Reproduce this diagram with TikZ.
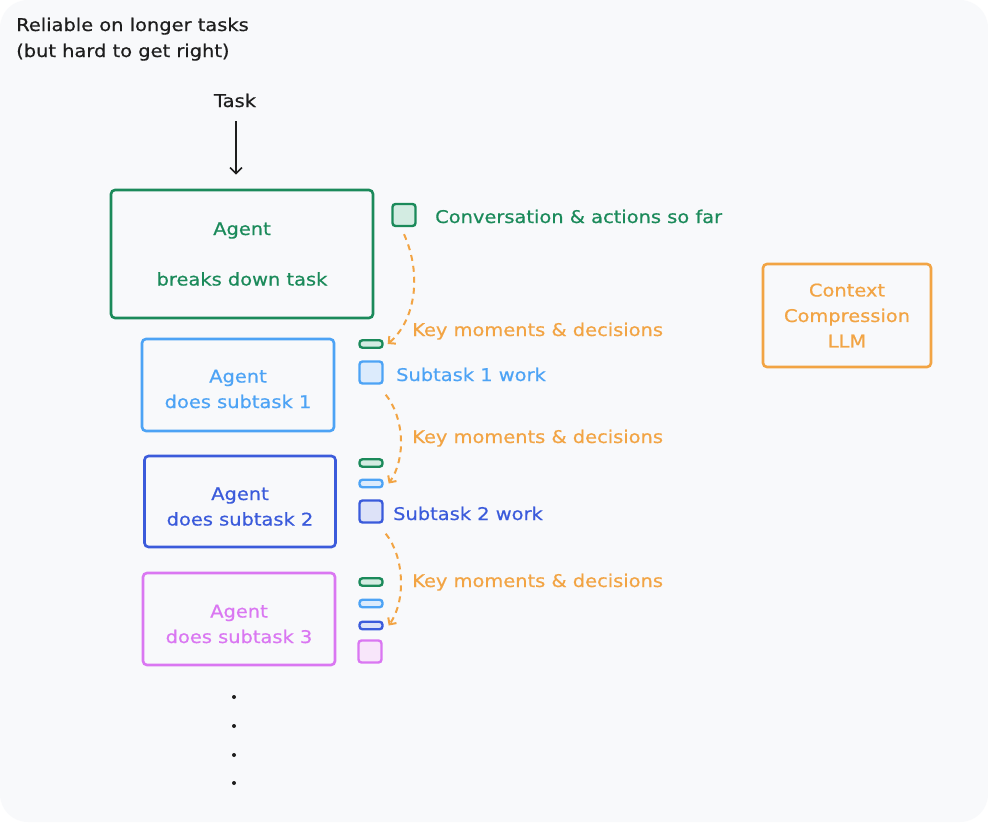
\documentclass[tikz,border=0pt]{standalone}
\usepackage{fontspec}
\setmainfont{DejaVu Sans}[FakeStretch=1.11, FakeBold=0.6]
\usetikzlibrary{arrows.meta}

\definecolor{paper}{HTML}{F8F9FB}
\definecolor{ink}{HTML}{1E1E1E}
\definecolor{plangreen}{HTML}{1B8A5A}
\definecolor{planfill}{HTML}{D3ECE2}
\definecolor{skyblue}{HTML}{4DA3F5}
\definecolor{skyfill}{HTML}{DCEBFC}
\definecolor{indigo}{HTML}{3B5BDB}
\definecolor{indigofill}{HTML}{DDE2F8}
\definecolor{grape}{HTML}{DA77F2}
\definecolor{grapefill}{HTML}{F8E6FA}
\definecolor{compress}{HTML}{F2A444}

\begin{document}
\begin{tikzpicture}[
  x=1pt,
  y=-1pt,
  font=\fontsize{17.5}{25.5}\selectfont,
  txt/.style={inner sep=0pt, anchor=base west},
  agentbox/.style={
    draw=#1,
    line width=2.6pt,
    rounded corners=4pt
  },
  boxtext/.style={text=#1, align=center, inner sep=0pt},
  chip/.style={
    draw=#1,
    line width=2.4pt,
    rounded corners=3pt,
    inner sep=0pt,
    minimum width=23pt
  },
  square/.style={minimum height=22pt},
  bar/.style={minimum height=7.5pt},
  recall/.style={
    draw=compress,
    line width=2pt,
    dash pattern=on 6pt off 5pt,
    -{Straight Barb[length=5pt,width=10pt]}
  }
]
  \useasboundingbox (0,0) rectangle (988,822);
  \fill[white] (0,0) rectangle (988,822);
  \fill[paper, rounded corners=28pt] (0,0) rectangle (988,822);

  % heading and task
  \node[txt, text=ink] (title) at (16,31) {Reliable on longer tasks};
  \node[txt, text=ink] (title2) at (16,57) {(but hard to get right)};
  \node[inner sep=0pt, anchor=base, text=ink] (task) at (235,107) {Task};

  % agent boxes
  \node[agentbox=plangreen, minimum width=262pt, minimum height=128pt] (plan)
    at (242,254) {};
  \node[boxtext=plangreen] (plantext) at (plan.center)
    {Agent\\[25pt]breaks down task};
  \node[agentbox=skyblue, minimum width=192pt, minimum height=92pt] (sub1)
    at (238,385) {};
  \node[boxtext=skyblue] (sub1text) at ([yshift=-4pt]sub1.center)
    {Agent\\does subtask 1};
  \node[agentbox=indigo, minimum width=191pt, minimum height=91pt] (sub2)
    at (240,501.5) {};
  \node[boxtext=indigo] (sub2text) at ([yshift=-5pt]sub2.center)
    {Agent\\does subtask 2};
  \node[agentbox=grape, minimum width=192pt, minimum height=92pt] (sub3)
    at (239,619) {};
  \node[boxtext=grape] (sub3text) at ([yshift=-5pt]sub3.center)
    {Agent\\does subtask 3};
  \node[agentbox=compress, minimum width=168pt, minimum height=103pt] (llm)
    at (847,315.5) {};
  \node[boxtext=compress] (llmtext) at (llm.center)
    {Context\\Compression\\LLM};

  \draw[ink, line width=1.6pt, -{Straight Barb[length=6pt,width=12pt]}]
    ([xshift=1pt,yshift=-14pt]task.south) -- ([xshift=1pt,yshift=14pt]task.south |- plan.north);

  % context chips
  \node[chip=plangreen, fill=planfill, square] (convo) at (404,215) {};
  \node[chip=plangreen, fill=planfill, bar] (kmA) at (371,344) {};
  \node[chip=skyblue, fill=skyfill, square] (workA) at (371,372.5) {};

  \node[chip=plangreen, fill=planfill, bar] (kmB1) at (371,463) {};
  \node[chip=skyblue, fill=skyfill, bar] (kmB2) at (371,483.5) {};
  \node[chip=indigo, fill=indigofill, square] (workB) at (371,511.5) {};

  \node[chip=plangreen, fill=planfill, bar] (kmC1) at (371,582) {};
  \node[chip=skyblue, fill=skyfill, bar] (kmC2) at (371,603.5) {};
  \node[chip=indigo, fill=indigofill, bar] (kmC3) at (371,625.5) {};
  \node[chip=grape, fill=grapefill, square] (workC) at (370,651.5) {};

  % chip labels
  \node[txt, text=plangreen] (convolabel) at (435,223) {Conversation \& actions so far};
  \node[txt, text=compress] (kmAlabel) at (412,336) {Key moments \& decisions};
  \node[txt, text=skyblue] (workAlabel) at (396,381) {Subtask 1 work};
  \node[txt, text=compress] (kmBlabel) at (412,443) {Key moments \& decisions};
  \node[txt, text=indigo] (workBlabel) at (393,520) {Subtask 2 work};
  \node[txt, text=compress] (kmClabel) at (412,587) {Key moments \& decisions};

  % compression hand-offs
  \draw[recall] ([yshift=-7pt]convo.south)
    .. controls +(18,40) and +(28,-24) .. ([xshift=4pt]kmA.east);
  \draw[recall] ([xshift=2pt,yshift=-10pt]workA.south east)
    .. controls +(18,22) and +(18,-26) .. ([xshift=5pt]kmB2.east);
  \draw[recall] ([xshift=2pt,yshift=-10pt]workB.south east)
    .. controls +(18,22) and +(18,-26) .. ([xshift=5pt]kmC3.east);

  % more subtasks
  \foreach \dy in {697,726,755,783}
    \fill[ink] (234,\dy) circle (2pt);
\end{tikzpicture}
\end{document}
